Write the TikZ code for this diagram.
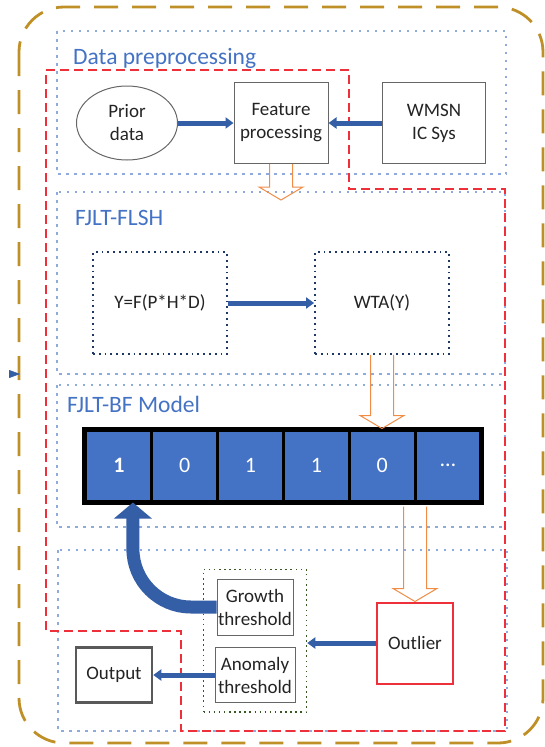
\documentclass[tikz,border=0pt]{standalone}
\usepackage{fontspec}
\setmainfont{Carlito}
\usetikzlibrary{arrows.meta, positioning, shapes.geometric, fit, calc}

\definecolor{titleblue}{RGB}{68,114,196}
\definecolor{arrowblue}{RGB}{52,94,166}
\definecolor{panelblue}{RGB}{143,170,220}
\definecolor{dashred}{RGB}{238,48,58}
\definecolor{framegold}{RGB}{191,144,40}
\definecolor{hollow}{RGB}{240,140,70}
\definecolor{textgray}{RGB}{35,35,35}
\definecolor{hashnavy}{RGB}{32,56,100}
\definecolor{threshgreen}{RGB}{56,87,35}

\begin{document}
\begin{tikzpicture}[x=1pt, y=-1pt, >={Triangle[width=11pt,length=8pt]},
    font=\fontsize{19}{23}\selectfont, text=textgray,
    block/.style={draw=black!60, line width=1pt, align=center, inner sep=0pt},
    panel/.style={draw=panelblue, line width=2.5pt, dash pattern=on 2.5pt off 5.5pt},
    title/.style={text=titleblue, font=\fontsize{23.5}{28}\selectfont, anchor=base west, inner sep=0pt},
    flow/.style={->, draw=arrowblue, line width=5pt},
    hashbox/.style={draw=hashnavy, line width=1.8pt, dash pattern=on 1.8pt off 4pt,
        minimum width=134pt, minimum height=102pt},
    bitcell/.style={draw=black, line width=3pt, fill=titleblue, text=white,
        minimum width=65.83pt, minimum height=71pt, font=\fontsize{22}{26}\selectfont},
    hollowarrow/.style={draw=hollow, line width=1pt, to path={
        let \p1=(\tikztostart), \p2=(\tikztotarget) in
        ({\x1-11.5pt},\y1) -- ({\x1-11.5pt},{\y2+13pt}) -- ({\x1-22pt},{\y2+13pt})
        -- (\x1,\y2) -- ({\x1+22pt},{\y2+13pt}) -- ({\x1+11.5pt},{\y2+13pt})
        -- ({\x1+11.5pt},\y1)}}]

    \useasboundingbox (0,0) rectangle (545,747);

    %define the frames
    \draw[framegold, line width=2.8pt, dash pattern=on 24pt off 14pt, rounded corners=45pt]
        (19,7) rectangle (543,743);
    \draw[panel] (57,31) rectangle (506,174);
    \draw[panel] (57,192) rectangle (505,374);
    \draw[panel] (57,385) rectangle (505,527);
    \draw[panel] (58,550) rectangle (507,731);
    \draw[dashred, line width=1.3pt, dash pattern=on 9pt off 5pt]
        (46,70) -- (349,70) -- (349,189) -- (505,189) -- (505,731)
        -- (181,731) -- (181,631) -- (46,631) -- cycle;

    %define the titles
    \node[title] (preptitle) at (73,64) {Data preprocessing};
    \node[title] (flshtitle) at (75,225) {FJLT-FLSH};
    \node[title] (bftitle) at (67,412) {FJLT-BF Model};

    %define the preprocessing stage
    \node[block, ellipse, minimum width=101pt, minimum height=74pt] (prior) at (127,123) {Prior\\data};
    \node[block, minimum width=94pt, minimum height=81pt] (feat) [right of=prior, node distance=154pt] {Feature\\processing};
    \node[block, minimum width=103pt, minimum height=81pt] (wmsn) [right of=feat, node distance=153pt] {WMSN\\IC Sys};

    %define the hashing stage
    \node[hashbox] (yf) at (160,303) {Y=F(P*H*D)};
    \node[hashbox] (wta) [right of=yf, node distance=222pt] {WTA(Y)};

    %define the bit array
    \foreach \v [count=\i] in {\textbf{1},0,1,1,0,\ldots}
        \node[bitcell] (bit\i) at (86+65.83*\i-32.92, 465.5) {\v};
    \draw[line width=4pt] (bit1.north west) rectangle (bit6.south east);

    %define the detection stage
    \node[block, draw=dashred, line width=2pt, minimum width=76pt, minimum height=81pt] (outlier) at (415,643) {Outlier};
    \node[block, minimum width=76pt, minimum height=56pt] (growth) at (255,607) {Growth\\threshold};
    \node[block, minimum width=80pt, minimum height=55pt] (anomaly) [below of=growth, node distance=68pt] {Anomaly\\threshold};
    \node[draw=threshgreen, line width=1.5pt, dash pattern=on 1.5pt off 3.6pt,
        fit=(growth)(anomaly), inner xsep=11pt, inner ysep=9pt] (thresh) {};
    \node[block, draw=black!65, line width=2.5pt, minimum width=76pt, minimum height=55pt] (output) [left of=anomaly, node distance=141pt] {Output};

    %define the free ends
    \coordinate (tip1) at (281,200);
    \coordinate (stub) at (9,374);
    \coordinate (stubend) at (20,374);

    %define the links
    \draw[flow] (prior.east) -- (feat.west);
    \draw[flow] (wmsn.west) -- (feat.east);
    \draw[flow] (yf.east) -- (wta.west);
    \draw[flow] (outlier.west) -- (outlier.west -| thresh.east);
    \draw[flow] (anomaly.west) -- (output.east);
    \draw[hollowarrow] (feat.south) to (tip1);
    \draw[hollowarrow] (wta.south) to (bit5.north);
    \draw[hollowarrow] ([yshift=-4pt]outlier.north |- bit6.south) to (outlier.north);
    \draw[arrowblue, line width=13pt, -{Triangle[width=37pt,length=16pt]}, rounded corners=58pt]
        (growth.west) -| ([xshift=14pt]bit1.south);
    \draw[arrowblue, -{Triangle[width=8pt,length=11pt]}] (stub) -- (stubend);
\end{tikzpicture}
\end{document}
